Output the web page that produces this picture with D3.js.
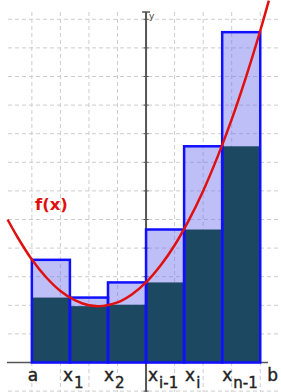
<!DOCTYPE html>
<html>
<head>
<meta charset="utf-8">
<script src="https://cdn.jsdelivr.net/npm/d3@7"></script>
<style>
  body { margin: 0; background: #fff; }
  svg { display: block; }
</style>
</head>
<body>
<div id="chart"></div>
<script>
// partition points a, x1, x2, x(i-1), x(i), x(n-1), b (grid units)
const edges = [-4, -2.667, -1.333, 0, 1.333, 2.667, 4];
const upperSums = [3.59, 2.27, 2.8, 4.65, 7.56, 11.55];
const lowerSums = [2.27, 1.97, 2.02, 2.8, 4.65, 7.56];

// points read along the red curve f(x)
const curveX = [-4.85, -4.5, -4, -3.5, -3, -2.5, -2, -1.5, -1, -0.5, 0, 0.5, 1, 1.5, 2, 2.5, 3, 3.5, 4, 4.3];
const curveY = [5.0, 4.38, 3.6, 2.98, 2.5, 2.18, 2.0, 1.98, 2.1, 2.38, 2.8, 3.38, 4.1, 4.98, 6.0, 7.18, 8.5, 9.98, 11.6, 12.65];

const tickLabels = [
  {main: "a", sub: ""},
  {main: "x", sub: "1"},
  {main: "x", sub: "2"},
  {main: "x", sub: "i-1"},
  {main: "x", sub: "i"},
  {main: "x", sub: "n-1"},
  {main: "b", sub: ""}
];

const gridX = [-4, -3, -2, -1, 1, 2, 3, 4];
const gridY = [-1, 1, 2, 3, 4, 5, 6, 7, 8, 9, 10, 11, 12];

function drawRiemann() {
  const width = 281;
  const height = 392;

  const svg = d3.select("#chart").append("svg")
    .attr("width", width)
    .attr("height", height);

  const x = d3.scaleLinear().domain([-5, 5]).range([3.3, 288.8]);
  const y = d3.scaleLinear().domain([0, 12.5]).range([362.5, 5]);

  // dashed grid
  const grid = svg.append("g")
    .attr("stroke", "#cdcdcd")
    .attr("stroke-width", 1)
    .attr("stroke-dasharray", "4,3");

  grid.selectAll("line.h")
    .data(gridY)
    .join("line")
    .attr("class", "h")
    .attr("x1", 8).attr("x2", width)
    .attr("y1", d => y(d)).attr("y2", d => y(d));

  grid.selectAll("line.v")
    .data(gridX)
    .join("line")
    .attr("class", "v")
    .attr("x1", d => x(d)).attr("x2", d => x(d))
    .attr("y1", 12).attr("y2", height);

  // axes
  svg.append("line")
    .attr("x1", 7).attr("x2", 268)
    .attr("y1", y(0)).attr("y2", y(0))
    .attr("stroke", "#555").attr("stroke-width", 1.5);

  svg.append("line")
    .attr("x1", x(0)).attr("x2", x(0))
    .attr("y1", 12).attr("y2", height)
    .attr("stroke", "#555").attr("stroke-width", 2);

  svg.append("line")
    .attr("x1", x(0) - 4).attr("x2", x(0) + 4)
    .attr("y1", 12).attr("y2", 12)
    .attr("stroke", "#555").attr("stroke-width", 1.5);

  svg.selectAll("line.ytick")
    .data(gridY)
    .join("line")
    .attr("class", "ytick")
    .attr("x1", x(0) - 2.5).attr("x2", x(0) + 2.5)
    .attr("y1", d => y(d)).attr("y2", d => y(d))
    .attr("stroke", "#555").attr("stroke-width", 1);

  svg.append("text")
    .attr("x", x(0) + 3)
    .attr("y", 19)
    .attr("font-family", "DejaVu Sans")
    .attr("font-size", "9px")
    .attr("fill", "#444")
    .text("y");

  const bars = upperSums.map((u, i) => ({x0: edges[i], x1: edges[i + 1], up: u, lo: lowerSums[i]}));

  // upper sum (light)
  svg.selectAll("rect.up")
    .data(bars)
    .join("rect")
    .attr("class", "up")
    .attr("x", d => x(d.x0))
    .attr("width", d => x(d.x1) - x(d.x0))
    .attr("y", d => y(d.up))
    .attr("height", d => y(0) - y(d.up))
    .attr("fill", "#7070f0")
    .attr("fill-opacity", 0.45);

  // lower sum (dark)
  svg.selectAll("rect.lo")
    .data(bars)
    .join("rect")
    .attr("class", "lo")
    .attr("x", d => x(d.x0))
    .attr("width", d => x(d.x1) - x(d.x0))
    .attr("y", d => y(d.lo))
    .attr("height", d => y(0) - y(d.lo))
    .attr("fill", "#1c4862");

  // outlines
  svg.selectAll("rect.edge")
    .data(bars)
    .join("rect")
    .attr("class", "edge")
    .attr("x", d => x(d.x0))
    .attr("width", d => x(d.x1) - x(d.x0))
    .attr("y", d => y(d.up))
    .attr("height", d => y(0) - y(d.up))
    .attr("fill", "none")
    .attr("stroke", "#1010ff")
    .attr("stroke-width", 2.5);

  // f(x)
  const line = d3.line()
    .x(d => x(d[0]))
    .y(d => y(d[1]))
    .curve(d3.curveCatmullRom);

  svg.append("path")
    .datum(curveX.map((v, i) => [v, curveY[i]]))
    .attr("d", line)
    .attr("fill", "none")
    .attr("stroke", "#e01010")
    .attr("stroke-width", 2.5);

  svg.append("text")
    .attr("x", 35)
    .attr("y", 210)
    .attr("font-family", "DejaVu Sans")
    .attr("font-weight", "bold")
    .attr("font-size", "16.5px")
    .attr("fill", "#e01010")
    .text("f(x)");

  // partition labels
  const labelShift = [-4, -7, -4, 2, 1, 0, 7];
  const lab = svg.selectAll("text.lab")
    .data(tickLabels)
    .join("text")
    .attr("class", "lab")
    .attr("x", (d, i) => x(edges[i]) + labelShift[i])
    .attr("y", 381)
    .attr("font-family", "DejaVu Sans")
    .attr("font-size", "17px")
    .attr("fill", "#222")
    .attr("stroke", "#222")
    .attr("stroke-width", 0.4);

  lab.append("tspan").text(d => d.main);
  lab.append("tspan")
    .attr("dx", 1)
    .attr("dy", 7)
    .attr("font-size", "15px")
    .text(d => d.sub);
}

drawRiemann();
</script>
</body>
</html>
